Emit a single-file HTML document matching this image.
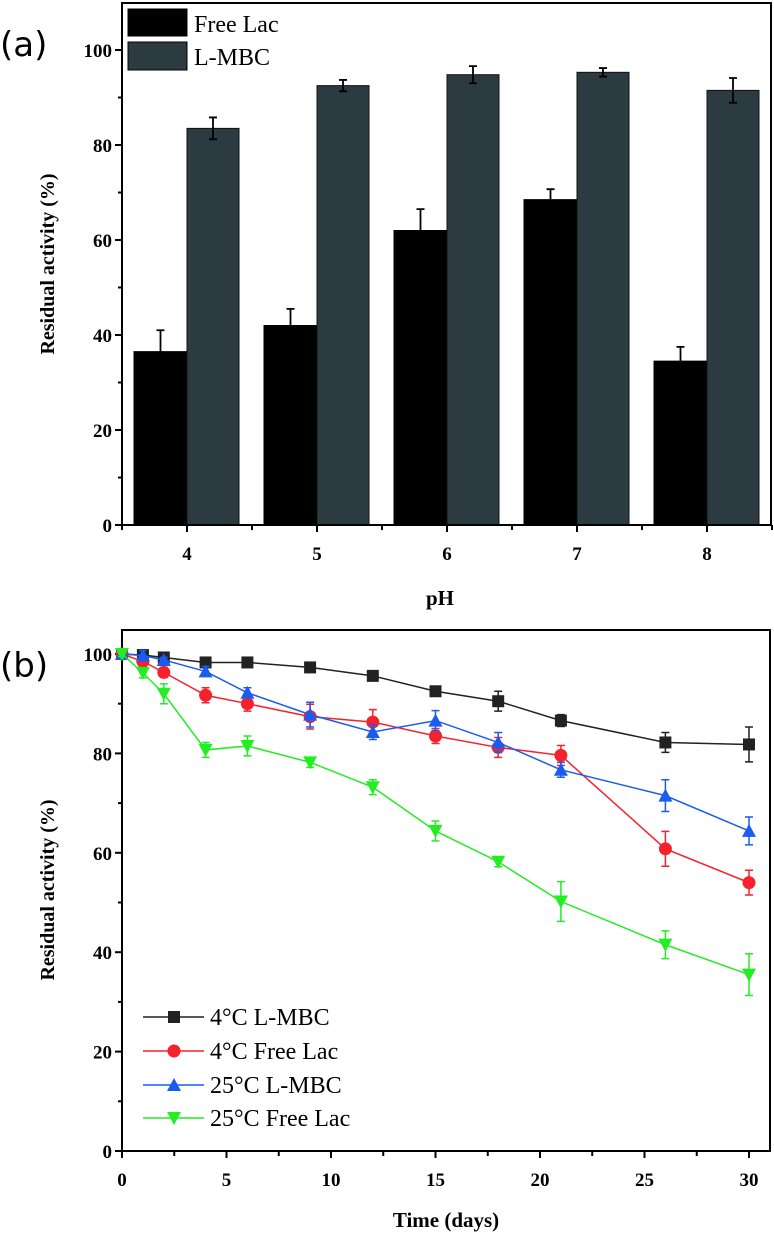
<!DOCTYPE html>
<html><head><meta charset="utf-8"><style>
html,body{margin:0;padding:0;background:#fff;}
svg{display:block;font-family:"Liberation Serif",serif;}
</style></head><body>
<svg id="fig" width="774" height="1236" viewBox="0 0 774 1236"></svg>
<script>
// ---- Panel (a) data ----
const phCats = [4, 5, 6, 7, 8];
const freeLac = [36.5, 42, 62, 68.5, 34.5];
const freeLacErr = [4.5, 3.5, 4.5, 2.2, 3];
const lmbc = [83.5, 92.5, 94.8, 95.3, 91.5];
const lmbcErr = [2.3, 1.2, 1.8, 0.9, 2.6];
const aYTicks = [0, 20, 40, 60, 80, 100];
// ---- Panel (b) data ----
const days = [0, 1, 2, 4, 6, 9, 12, 15, 18, 21, 26, 30];
const s4L = [100, 99.8, 99.3, 98.3, 98.3, 97.3, 95.6, 92.5, 90.5, 86.6, 82.2, 81.8];
const s4LErr = [0.5, 0.5, 0.5, 0.6, 0.5, 0.6, 0.6, 0.8, 2, 1.2, 2, 3.5];
const s4F = [100, 98.5, 96.3, 91.7, 90, 87.4, 86.3, 83.5, 81.2, 79.6, 60.8, 54];
const s4FErr = [0.5, 1, 1, 1.5, 1.5, 2.5, 2.5, 1.5, 2, 2, 3.5, 2.5];
const s25L = [100, 99.7, 98.8, 96.5, 92.2, 87.8, 84.3, 86.6, 82.2, 76.7, 71.5, 64.4];
const s25LErr = [0.5, 1, 0.5, 1, 1, 2.5, 1.5, 2, 2, 1.5, 3.2, 2.8];
const s25F = [100, 96.2, 92, 80.7, 81.5, 78.2, 73.2, 64.4, 58.2, 50.2, 41.5, 35.5];
const s25FErr = [0.5, 1, 2, 1.5, 2, 1, 1.5, 2, 1, 4, 2.8, 4.2];
const bYTicks = [0, 20, 40, 60, 80, 100];
const bXTicks = [0, 5, 10, 15, 20, 25, 30];

const NS = "http://www.w3.org/2000/svg";
const svg = document.getElementById('fig');
function mk(tag, attrs, parent){const e=document.createElementNS(NS,tag);for(const k in attrs)e.setAttribute(k,attrs[k]);(parent||svg).appendChild(e);return e;}
function txt(s, attrs){const e=mk('text',attrs);e.textContent=s;return e;}
const TF = 19;

// ===== Panel (a) =====
const aL=122, aR=771, aT=3, aB=525;
const ay = v => aB - v*(aB-50)/100;
const ax = c => 187 + (c-4)*130;
const ga = mk('g',{});


phCats.forEach((c,i)=>{
  const x=ax(c);
  let b=mk('rect',{x:x-53,y:ay(freeLac[i]),width:53,height:aB-ay(freeLac[i]),fill:'#000',stroke:'#000'},ga);
  
  
  b=mk('rect',{x:x,y:ay(lmbc[i]),width:52,height:aB-ay(lmbc[i]),fill:'#2c3b41',stroke:'#111'},ga);
  
  
  [[x-26.5,freeLac[i],freeLacErr[i]],[x+26,lmbc[i],lmbcErr[i]]].forEach(([ex,v,e])=>{
    mk('path',{d:`M${ex},${ay(v)}V${ay(v+e)}M${ex-4},${ay(v+e)}H${ex+4}M${ex},${ay(v)}V${ay(v-e)}M${ex-4},${ay(v-e)}H${ex+4}`,stroke:'#000','stroke-width':1.8,fill:'none'},ga);
  });
});
mk('path',{d:`M${aL},${aT}V${aB}H${aR}V${aT}Z`,stroke:'#000','stroke-width':2,fill:'none'},ga);
for(let v=0;v<=100;v+=10){const major=v%20===0;mk('line',{x1:aL-(major?7:4),x2:aL,y1:ay(v),y2:ay(v),stroke:'#000','stroke-width':2},ga);}
aYTicks.forEach(v=>{const t=txt(v,{x:aL-10,y:ay(v)+7,'text-anchor':'end','font-size':TF,'font-weight':'bold'});});
phCats.forEach(c=>{mk('line',{x1:ax(c),x2:ax(c),y1:aB,y2:aB+7,stroke:'#000','stroke-width':2},ga);
  const t=txt(c,{x:ax(c),y:aB+35,'text-anchor':'middle','font-size':TF,'font-weight':'bold'});});
for(let k=0;k<6;k++){const x=ax(3.5+k);mk('line',{x1:x,x2:x,y1:aB,y2:aB+5,stroke:'#000','stroke-width':2},ga);}
let t=txt('pH',{x:440,y:605,'text-anchor':'middle','font-size':21,'font-weight':'bold'});
t=txt('Residual activity (%)',{x:0,y:0,transform:'translate(54,264) rotate(-90)','text-anchor':'middle','font-size':20,'font-weight':'bold'});
t=txt('(a)',{x:0,y:56,'font-size':34,'font-family':'DejaVu Sans, sans-serif'});
let r=mk('rect',{x:128,y:9,width:59,height:27,fill:'#000',stroke:'#000'});
r=mk('rect',{x:128,y:42,width:59,height:28,fill:'#2c3b41',stroke:'#000'});
t=txt('Free Lac',{x:194,y:32,'font-size':24});
t=txt('L-MBC',{x:194,y:65,'font-size':24});

// ===== Panel (b) =====
const bL=122, bR=770, bT=630, bB=1151;
const by = v => bB - v*(bB-654)/100;
const bx = d => bL + d*(749-bL)/30;
mk('path',{d:`M${bL},${bT}H${bR}V${bB}H${bL}Z`,stroke:'#000','stroke-width':2,fill:'none'});
for(let v=0;v<=100;v+=10){const major=v%20===0;mk('line',{x1:bL-(major?7:4),x2:bL,y1:by(v),y2:by(v),stroke:'#000','stroke-width':2});}
bYTicks.forEach(v=>{const t=txt(v,{x:bL-10,y:by(v)+7,'text-anchor':'end','font-size':TF,'font-weight':'bold'});});
for(let d=0;d<=30;d+=2.5){const major=d%5===0;mk('line',{x1:bx(d),x2:bx(d),y1:bB,y2:bB+(major?7:5),stroke:'#000','stroke-width':2});}
bXTicks.forEach(d=>{const t=txt(d,{x:bx(d),y:bB+35,'text-anchor':'middle','font-size':TF,'font-weight':'bold'});});
t=txt('Time (days)',{x:446,y:1227,'text-anchor':'middle','font-size':21,'font-weight':'bold'});
t=txt('Residual activity (%)',{x:0,y:0,transform:'translate(54,890) rotate(-90)','text-anchor':'middle','font-size':20,'font-weight':'bold'});
t=txt('(b)',{x:0,y:677,'font-size':34,'font-family':'DejaVu Sans, sans-serif'});

function marker(shape,x,y,col,g){
  if(shape==='sq') return mk('rect',{x:x-6,y:y-6,width:12,height:12,fill:col},g);
  if(shape==='ci') return mk('circle',{cx:x,cy:y,r:6.5,fill:col},g);
  if(shape==='up') return mk('path',{d:`M${x},${y-7}L${x+7},${y+6}L${x-7},${y+6}Z`,fill:col},g);
  return mk('path',{d:`M${x},${y+7}L${x+7},${y-6}L${x-7},${y-6}Z`,fill:col},g);
}
const series=[
  {name:'4-c-lmbc',label:'4°C L-MBC',vals:s4L,err:s4LErr,col:'#222',shape:'sq',ly:1017},
  {name:'4-c-free-lac',label:'4°C Free Lac',vals:s4F,err:s4FErr,col:'#f5222d',shape:'ci',ly:1051},
  {name:'25-c-lmbc',label:'25°C L-MBC',vals:s25L,err:s25LErr,col:'#1a5cf0',shape:'up',ly:1085},
  {name:'25-c-free-lac',label:'25°C Free Lac',vals:s25F,err:s25FErr,col:'#22ee22',shape:'dn',ly:1118},
];
series.forEach(s=>{
  const g=mk('g',{});
  
  
  mk('polyline',{points:days.map((d,i)=>bx(d)+','+by(s.vals[i])).join(' '),fill:'none',stroke:s.col,'stroke-width':1.5},g);
  days.forEach((d,i)=>{
    const x=bx(d),v=s.vals[i],e=s.err[i];
    mk('path',{d:`M${x},${by(v-e)}V${by(v+e)}M${x-4},${by(v+e)}H${x+4}M${x-4},${by(v-e)}H${x+4}`,stroke:s.col,'stroke-width':1.5,fill:'none'},g);
    const m=marker(s.shape,x,by(v),s.col,g);
    
    
  });
  const lg=mk('g',{});
  
  
  mk('line',{x1:143,x2:204,y1:s.ly,y2:s.ly,stroke:s.col,'stroke-width':1.5},lg);
  marker(s.shape,174,s.ly,s.col,lg);
  const tt=mk('text',{x:210,y:s.ly+8,'font-size':24},lg);
  tt.textContent=s.label;
});
</script>
</body></html>
